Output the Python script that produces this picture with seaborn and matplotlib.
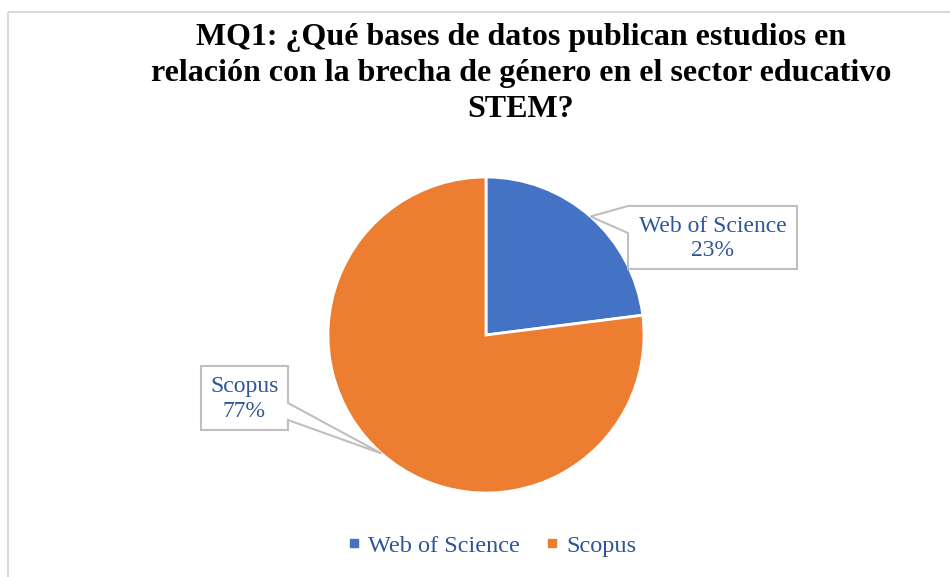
import numpy as np
import matplotlib.pyplot as plt
import seaborn as sns
from matplotlib.patches import Polygon, Rectangle

sns.set_theme(style="white")
plt.rcParams['font.family'] = ['Liberation Serif', 'DejaVu Serif']

# data
labels = ['Web of Science', 'Scopus']
shares = [23, 77]
colors = ['#4472C4', '#ED7D31']
title = 'MQ1: ¿Qué bases de datos publican estudios en\nrelación con la brecha de género en el sector educativo\nSTEM?'
text_color = '#2F5597'

W, H = 950, 577
fig = plt.figure(figsize=(9.5, 5.77), dpi=100)
ax = fig.add_axes([0, 0, 1, 1])

# chart frame
ax.add_patch(Rectangle((8, 12), 1000, 1000, fill=False, ec='#D9D9D9', lw=1.5))

# pie (y axis inverted, so counterclock=True gives clockwise on screen)
cx, cy, r = 486, 335, 158
wedges, _ = ax.pie(shares, colors=colors, startangle=-90, counterclock=True,
                   center=(cx, cy), radius=r, frame=True,
                   wedgeprops=dict(edgecolor='white', linewidth=2))
ax.set_xlim(0, W)
ax.set_ylim(H, 0)
ax.axis('off')

# callouts, tips on the middle of each wedge edge
def tip_of(w):
    ang = np.deg2rad((w.theta1 + w.theta2) / 2)
    return cx + r * np.cos(ang), cy + r * np.sin(ang)

boxes = [(628, 206, 797, 269), (201, 366, 288, 430)]
for i, (w, b) in enumerate(zip(wedges, boxes)):
    tx, ty = tip_of(w)
    x0, y0, x1, y1 = b
    if i == 0:
        pts = [(x0, y0), (tx, ty), (x0, 233), (x0, y1), (x1, y1), (x1, y0)]
    else:
        pts = [(x0, y0), (x1, y0), (x1, 403), (tx, ty), (x1, 420), (x1, y1), (x0, y1)]
    ax.add_patch(Polygon(pts, closed=True, fc='white', ec='#BFBFBF', lw=1.5, zorder=3))
    ax.text((x0 + x1) / 2, (y0 + y1) / 2 + 1, f'{labels[i]}\n{shares[i]}%',
            ha='center', va='center', fontsize=17, color=text_color,
            linespacing=1.25, zorder=4)

# title
ax.text(521, 23, title, ha='center', va='top', fontsize=23, fontweight='bold',
        color='black', linespacing=1.32)

# legend
handles = [plt.Line2D([], [], marker='s', ls='', color=c, markersize=6) for c in colors]
fig.legend(handles, labels, loc='center', bbox_to_anchor=(0.516, 0.054), ncol=2,
           frameon=False, fontsize=17.5, labelcolor=text_color, handletextpad=0.2,
           columnspacing=0.9, handlelength=0.8)

fig.savefig('out.png', dpi=100)
